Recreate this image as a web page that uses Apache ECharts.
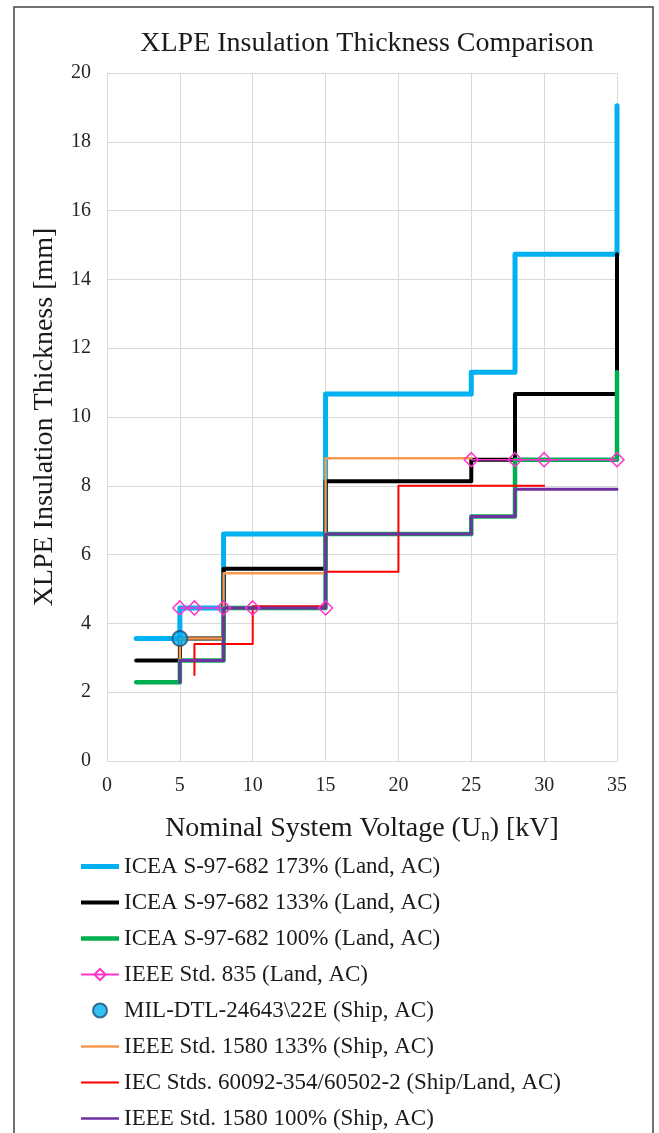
<!DOCTYPE html>
<html>
<head>
<meta charset="utf-8">
<script src="https://cdn.jsdelivr.net/npm/echarts@6/dist/echarts.min.js"></script>
<style>
  html, body { margin: 0; padding: 0; background: #fff; }
  #chart { width: 659px; height: 1133px; }
</style>
</head>
<body>
<div id="chart"></div>
<script>
// ---- Data (kV breakpoints and insulation thickness in mm) ----
const xTicks = [0, 5, 10, 15, 20, 25, 30, 35];
const yTicks = [0, 2, 4, 6, 8, 10, 12, 14, 16, 18, 20];

const iceaVolt   = [2, 5, 8, 15, 25, 28, 35];
const icea173    = [3.56, 4.45, 6.60, 10.67, 11.30, 14.73, 19.05];
const icea133    = [2.92, 3.56, 5.59, 8.13, 8.76, 10.67, 14.73];
const icea100    = [2.29, 2.92, 4.45, 6.60, 7.11, 8.76, 11.30];

const ieee835VoltLow  = [5, 6, 8, 10, 15];
const ieee835Low      = [4.45, 4.45, 4.45, 4.45, 4.45];
const ieee835VoltHigh = [25, 28, 30, 35];
const ieee835High     = [8.76, 8.76, 8.76, 8.76];

const milVolt = [5];
const milVal  = [3.56];

const ieee1580_133Volt = [5, 5, 8, 15, 25];
const ieee1580_133     = [2.92, 3.56, 5.46, 8.80, 8.80];

const iecVolt = [6, 6, 10, 15, 20, 30];
const iecVal  = [2.5, 3.4, 4.5, 5.5, 8.0, 8.0];

const ieee1580_100Volt = [5, 5, 8, 15, 25, 28, 35];
const ieee1580_100     = [2.29, 2.92, 4.45, 6.60, 7.11, 7.90, 7.90];

const names = [
  'ICEA S-97-682 173% (Land, AC)',
  'ICEA S-97-682 133% (Land, AC)',
  'ICEA S-97-682 100% (Land, AC)',
  'IEEE Std. 835 (Land, AC)',
  'MIL-DTL-24643\\22E (Ship, AC)',
  'IEEE Std. 1580 133% (Ship, AC)',
  'IEC Stds. 60092-354/60502-2 (Ship/Land, AC)',
  'IEEE Std. 1580 100% (Ship, AC)'
];

function pairs(xs, ys) { return xs.map((x, i) => [x, ys[i]]); }

const FONT = '"Liberation Serif", "Times New Roman", serif';

function stepLine(name, xs, ys, color, width) {
  return {
    name: name, type: 'line', step: 'end', data: pairs(xs, ys),
    symbol: 'none', color: color,
    lineStyle: { color: color, width: width, cap: 'round', join: 'round' },
    emphasis: { disabled: true }, animation: false
  };
}

const pink = '#FF33CC';
function pinkSeries(xs, ys) {
  return {
    name: names[3], type: 'line', data: pairs(xs, ys),
    symbol: 'diamond', symbolSize: 14, color: pink,
    itemStyle: { color: 'rgba(255,255,255,0)', borderColor: pink, borderWidth: 1.5 },
    lineStyle: { color: pink, width: 1.5 },
    emphasis: { disabled: true }, animation: false
  };
}

function barIcon(h) {
  const y0 = (14 - h) / 2;
  return 'path://M0,0 L38,0 L38,14 L0,14 Z M0,' + y0 + ' L38,' + y0 + ' L38,' + (y0 + h) + ' L0,' + (y0 + h) + ' Z';
}
function lineIcon(h) {
  return 'path://M0,0 L38,0 L38,' + h + ' L0,' + h + ' Z';
}

const chart = echarts.init(document.getElementById('chart'), null, { renderer: 'canvas' });
chart.setOption({
  backgroundColor: '#fff',
  animation: false,
  title: {
    text: 'XLPE Insulation Thickness Comparison',
    left: 362, top: 25, textAlign: 'center',
    textStyle: { fontFamily: FONT, fontSize: 28, fontWeight: 'normal', color: '#1a1a1a' }
  },
  graphic: [{
    type: 'rect', silent: true, z: -1,
    shape: { x: 14, y: 7, width: 639, height: 1140 },
    style: { fill: 'none', stroke: '#444', lineWidth: 1.5 }
  }],
  grid: { left: 107, right: 42, top: 73, bottom: 372, containLabel: false },
  xAxis: {
    type: 'value', min: xTicks[0], max: xTicks[xTicks.length - 1], interval: 5,
    name: 'Nominal System Voltage (U{sub|n}) [kV]',
    nameLocation: 'middle', nameGap: 52,
    nameTextStyle: {
      fontFamily: FONT, fontSize: 28, color: '#1a1a1a',
      rich: { sub: { fontFamily: FONT, fontSize: 17, color: '#1a1a1a', padding: [14, 0, 0, 0] } }
    },
    axisLine: { show: true, lineStyle: { color: '#d9d9d9', width: 1 } },
    axisTick: { show: false },
    axisLabel: { fontFamily: FONT, fontSize: 20, color: '#262626', margin: 15 },
    splitLine: { show: true, lineStyle: { color: '#d9d9d9', width: 1 } }
  },
  yAxis: {
    type: 'value', min: yTicks[0], max: yTicks[yTicks.length - 1], interval: 2,
    name: 'XLPE Insulation Thickness [mm]',
    nameLocation: 'middle', nameGap: 48, nameRotate: 90,
    nameTextStyle: { fontFamily: FONT, fontSize: 28, color: '#1a1a1a' },
    axisLine: { show: true, lineStyle: { color: '#d9d9d9', width: 1 } },
    axisTick: { show: false },
    axisLabel: { fontFamily: FONT, fontSize: 20, color: '#262626', margin: 16 },
    splitLine: { show: true, lineStyle: { color: '#d9d9d9', width: 1 } }
  },
  legend: {
    orient: 'vertical', left: 80, top: 855, padding: 0,
    height: 300, width: 560,
    itemWidth: 38, itemHeight: 14, itemGap: 13,
    selectedMode: false,
    symbolKeepAspect: true,
    data: [
      { name: names[0], icon: lineIcon(5) },
      { name: names[1], icon: lineIcon(4) },
      { name: names[2], icon: lineIcon(4.5) },
      { name: names[3] },
      { name: names[4], icon: 'circle' },
      { name: names[5], icon: lineIcon(2.5) },
      { name: names[6], icon: lineIcon(2) },
      { name: names[7], icon: lineIcon(2.5) }
    ],
    textStyle: { fontFamily: FONT, fontSize: 23, color: '#1a1a1a', lineHeight: 23 }
  },
  series: [
    stepLine(names[0], iceaVolt, icea173, '#00B0F0', 5),
    stepLine(names[1], iceaVolt, icea133, '#000000', 4),
    stepLine(names[2], iceaVolt, icea100, '#00B050', 4.5),
    pinkSeries(ieee835VoltLow, ieee835Low),
    pinkSeries(ieee835VoltHigh, ieee835High),
    {
      name: names[4], type: 'scatter', data: pairs(milVolt, milVal),
      symbol: 'circle', symbolSize: 15, z: 5,
      itemStyle: { color: '#00B0F0', borderColor: '#1F4E79', borderWidth: 2 },
      emphasis: { disabled: true }, animation: false
    },
    stepLine(names[5], ieee1580_133Volt, ieee1580_133, '#F79A4F', 2.5),
    stepLine(names[6], iecVolt, iecVal, '#FF0000', 2),
    stepLine(names[7], ieee1580_100Volt, ieee1580_100, '#7030A0', 3)
  ]
});
</script>
</body>
</html>
